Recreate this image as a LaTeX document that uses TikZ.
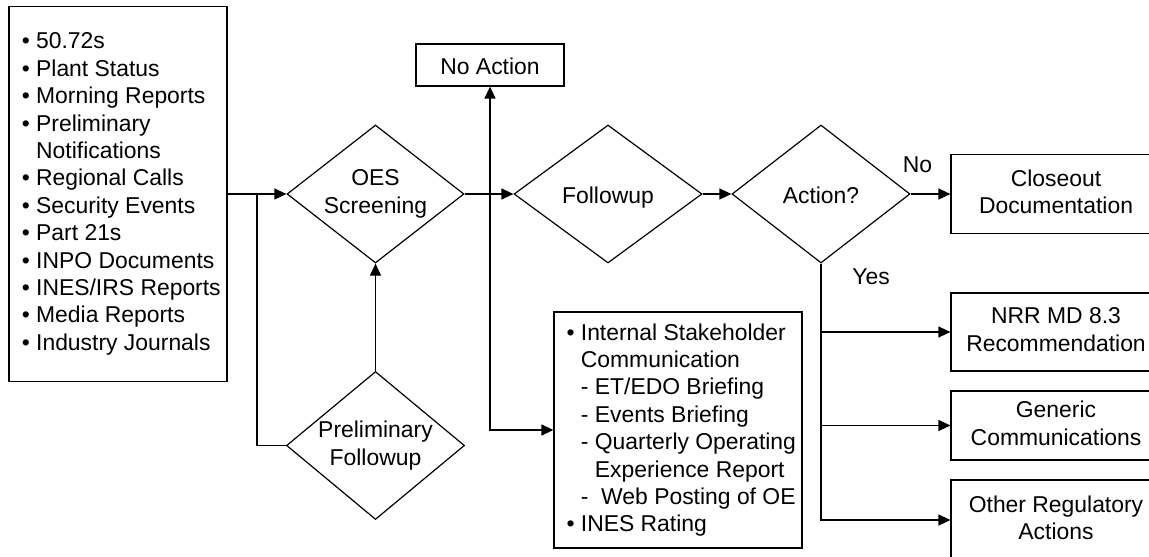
\documentclass[tikz,border=0pt]{standalone}
\usepackage{fontspec}
\setmainfont{Liberation Sans}
\usetikzlibrary{shapes.geometric,arrows.meta}

\newcommand\itembul{\hspace*{3.25pt}• }
\newcommand\subind{\hspace*{3.25pt}\hphantom{• }}
\newcommand\subsubind{\hspace*{3.25pt}\hphantom{• - }}
\newcommand\linestrut{\rule[-2.4pt]{0pt}{14.3pt}}

\tikzset{
    decision/.style={
        draw,diamond,aspect=1.2,
        inner sep=-2pt,align=center
    },
    list box/.style={
        draw,align=left,inner xsep=2.5pt
    },
    outcome/.style={
        draw,align=center,minimum width=105pt
    },
    flow/.style={-{Triangle[length=6pt,width=5.5pt]}}
}

\begin{document}
\begin{tikzpicture}[x=.5pt,y=-.5pt,line width=.6pt,font=\fontsize{11.45}{13.7}\selectfont,
        every node/.style={execute at begin node=\linestrut,execute at end node=\linestrut}]
        \path[use as bounding box,clip] (0,0) rectangle (1149,556);
        \node[list box,minimum width=109pt,minimum height=187.5pt] (sources) at (118,194)
            {\itembul 50.72s\\\itembul Plant Status\\\itembul Morning Reports\\\itembul Preliminary\\\subind Notifications\\\itembul Regional Calls\\\itembul Security Events\\\itembul Part 21s\\\itembul INPO Documents\\\itembul INES/IRS Reports\\\itembul Media Reports\\\itembul Industry Journals};
        \node[decision,minimum width=88.5pt,minimum height=69pt] (oes) at (375.5,194) {OES\\Screening};
        \node[decision,minimum width=89pt,minimum height=74pt] (prelim) at (375.5,445.5) {Preliminary\\Followup};
        \node[draw,minimum width=74pt,minimum height=19.5pt] (noaction) at (490,65) {No Action};
        \node[decision,minimum width=94pt,minimum height=69pt] (followup) at (608,194) {Followup};
        \node[decision,minimum width=89pt,minimum height=69pt] (action) at (821,194) {Action?};
        \node[list box,minimum width=124pt,minimum height=118pt] (internal) at (678,430)
            {\itembul Internal Stakeholder\\\subind Communication\\\subind - ET/EDO Briefing\\\subind - Events Briefing\\\subind - Quarterly Operating\\\subsubind Experience Report\\\subind -\ \ Web Posting of OE\\\itembul INES Rating};
        \foreach \name/\y/\h/\txt in {closeout/194/39.5/{Closeout\\Documentation},
                nrr/332/39/{NRR MD 8.3\\Recommendation},
                generic/425.5/34.5/{Generic\\Communications},
                other/520/40/{Other Regulatory\\Actions}}
            \node[outcome,minimum height=\h pt] (\name) at (1056,\y) {\txt};
        \draw[flow] (sources.east) -- (oes.west);
        \coordinate (split1) at (257,194);
        \draw (split1) |- (prelim.west);
        \draw[flow] (prelim.north) -- (oes.south);
        \draw[flow] (oes.east) -- (followup.west);
        \coordinate (split2) at (490,194);
        \draw[flow] (split2) -- (noaction.south);
        \draw[flow] (split2) |- (internal.west);
        \draw[flow] (followup.east) -- (action.west);
        \draw[flow] (action.east) -- node[pos=.175,yshift=15.3pt] {No} (closeout.west);
        \draw[flow] (action.south) |- node[pos=.095,xshift=25pt,yshift=.6pt] {Yes} (nrr.west);
        \foreach \name in {generic,other}
            \draw[flow] (action.south) |- (\name.west);
\end{tikzpicture}
\end{document}
